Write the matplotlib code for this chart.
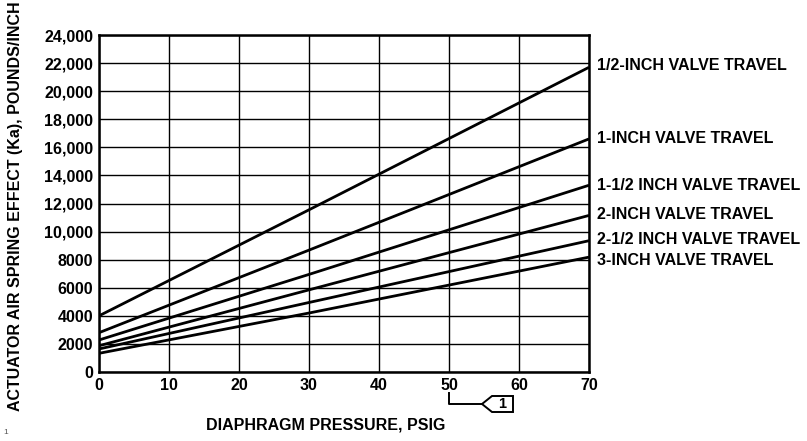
import numpy as np
import matplotlib
matplotlib.use("Agg")
import matplotlib.pyplot as plt
from matplotlib.patches import Polygon

plt.rcParams['font.family'] = ['Liberation Sans', 'DejaVu Sans']
plt.rcParams['font.weight'] = 'bold'

# Diaphragm pressure (psig) and spring effect
pressure = [0, 30, 70]
travel_labels = [
    "1/2-INCH VALVE TRAVEL",
    "1-INCH VALVE TRAVEL",
    "1-1/2 INCH VALVE TRAVEL",
    "2-INCH VALVE TRAVEL",
    "2-1/2 INCH VALVE TRAVEL",
    "3-INCH VALVE TRAVEL",
]
ka_half = [4000, 11550, 21700]
ka_one = [2800, 8680, 16600]
ka_one_half = [2280, 6950, 13300]
ka_two = [1870, 5850, 11150]
ka_two_half = [1640, 4950, 9350]
ka_three = [1330, 4200, 8180]
series = [ka_half, ka_one, ka_one_half, ka_two, ka_two_half, ka_three]
# y position (data units) of each label on the right side
label_y = [21800, 16600, 13300, 11250, 9450, 7950]

x_ticks = list(range(0, 71, 10))
y_ticks = list(range(0, 24001, 2000))
y_tick_labels = ["0", "2000", "4000", "6000", "8000", "10,000", "12,000",
                 "14,000", "16,000", "18,000", "20,000", "22,000", "24,000"]

fs = 11.5
fig = plt.figure(figsize=(8.07, 4.41), dpi=100)
ax = fig.add_axes([99 / 807, 1 - 372 / 441, 490 / 807, 337 / 441])

for vals in series:
    ax.plot(pressure, vals, color="black", lw=2.0, solid_capstyle="butt", zorder=3)

ax.set_xlim(0, 70)
ax.set_ylim(0, 24000)
ax.set_xticks(x_ticks)
ax.set_yticks(y_ticks)
ax.set_xticklabels([str(v) for v in x_ticks], fontsize=fs, fontweight="bold")
ax.set_yticklabels(y_tick_labels, fontsize=fs, fontweight="bold")
ax.tick_params(length=0, pad=4)
ax.grid(True, color="black", lw=1.0)
for s in ax.spines.values():
    s.set_linewidth(1.8)

for lab, yv in zip(travel_labels, label_y):
    ax.text(71.2, yv, lab, fontsize=fs, fontweight="bold", va="center", ha="left",
            clip_on=False)

fig.text(16 / 807, 1 - 206 / 441, "ACTUATOR AIR SPRING EFFECT (Ka), POUNDS/INCH",
         rotation=90, fontsize=fs, fontweight="bold", ha="center", va="center")
fig.text(326 / 807, 1 - 425 / 441, "DIAPHRAGM PRESSURE, PSIG",
         fontsize=fs, fontweight="bold", ha="center", va="center")

# note flag under the 50 psig tick
fig.add_artist(plt.Line2D([449 / 807, 449 / 807, 482 / 807],
                          [1 - 393 / 441, 1 - 404 / 441, 1 - 404 / 441],
                          color="black", lw=1.4, transform=fig.transFigure))
flag = [(482, 404), (492, 396), (513, 396), (513, 412), (492, 412)]
fig.add_artist(Polygon([(px / 807, 1 - py / 441) for px, py in flag], closed=True,
                       fill=False, edgecolor="black", lw=1.4,
                       transform=fig.transFigure))
fig.text(502 / 807, 1 - 404 / 441, "1", fontsize=10.5, fontweight="bold",
         ha="center", va="center")

fig.text(3 / 807, 1 - 433 / 441, "1", fontsize=6, color="#555555",
         ha="left", va="center", fontweight="normal")

fig.savefig("out.png", dpi=100)
